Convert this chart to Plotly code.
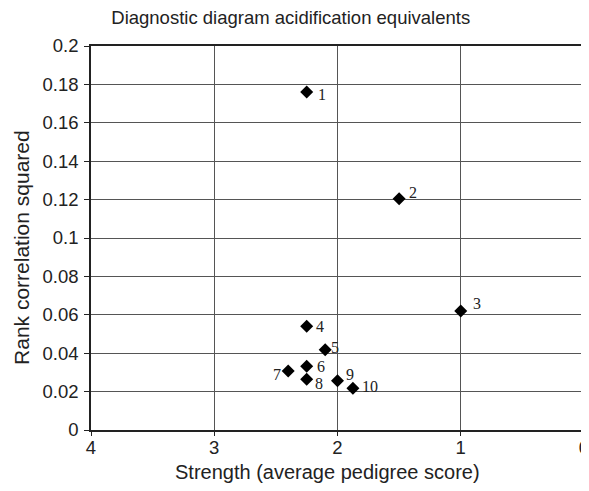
import plotly.graph_objects as go

labels = ["1", "2", "3", "4", "5", "6", "7", "8", "9", "10"]
strength = [2.25, 1.5, 1.0, 2.25, 2.1, 2.25, 2.4, 2.25, 2.0, 1.875]
rank_corr_sq = [0.176, 0.1205, 0.062, 0.054, 0.0418, 0.0332, 0.0307, 0.0264, 0.0257, 0.0218]

# label offsets (pixels) relative to each marker
label_dx = [15, 14, 16, 13, 10, 14, -11, 12, 12, 17]
label_dy = [-2, 6, 7, 0, 2, 0, -3, -4, 6, 2]

x_ticks = [4, 3, 2, 1, 0]
y_ticks = [0, 0.02, 0.04, 0.06, 0.08, 0.1, 0.12, 0.14, 0.16, 0.18, 0.2]
y_ticktext = ["0", "0.02", "0.04", "0.06", "0.08", "0.1", "0.12", "0.14", "0.16", "0.18", "0.2"]

fig = go.Figure()
fig.add_trace(go.Scatter(
    x=strength, y=rank_corr_sq, mode="markers",
    marker=dict(symbol="diamond", size=10, color="black"),
    showlegend=False, cliponaxis=False,
))

for t, xv, yv, dx, dy in zip(labels, strength, rank_corr_sq, label_dx, label_dy):
    fig.add_annotation(x=xv, y=yv, text=t, showarrow=False, xshift=dx, yshift=dy,
                       xanchor="center", yanchor="middle",
                       font=dict(family="Liberation Serif", size=16, color="#222"))

fig.add_annotation(text="Strength (average pedigree score)", xref="paper", yref="paper",
                   x=0.479, y=-0.11, xanchor="center", yanchor="middle", showarrow=False,
                   font=dict(family="Liberation Sans", size=20, color="#222"))
fig.add_annotation(text="Rank correlation squared", xref="paper", yref="paper",
                   x=-0.140, y=0.4766, xanchor="center", yanchor="middle", showarrow=False,
                   textangle=-90,
                   font=dict(family="Liberation Sans", size=21, color="#222"))

axis_font = dict(family="Liberation Sans", size=18.5, color="#222")
fig.update_layout(
    width=589, height=491,
    margin=dict(l=83, r=13, t=38, b=69, autoexpand=False),
    paper_bgcolor="white", plot_bgcolor="white",
    title=dict(text="Diagnostic diagram acidification equivalents", x=0.48, xref="container",
               xanchor="center", y=0.980, yanchor="middle",
               font=dict(family="Liberation Sans", size=18.5, color="#222")),
    xaxis=dict(range=[4, 0], tickvals=x_ticks, ticktext=[str(v) for v in x_ticks],
               showgrid=True, gridcolor="#555", gridwidth=1.2,
               showline=True, linecolor="#222", linewidth=1.5, mirror=True,
               ticks="outside", ticklen=4, tickcolor="#222", ticklabelstandoff=-4,
               tickfont=axis_font, zeroline=False, automargin=False),
    yaxis=dict(range=[0, 0.2], tickvals=y_ticks, ticktext=y_ticktext,
               showgrid=True, gridcolor="#555", gridwidth=1.2,
               showline=True, linecolor="#222", linewidth=1.5, mirror=True,
               ticks="outside", ticklen=5, tickcolor="#222", ticklabelstandoff=2,
               tickfont=axis_font, zeroline=False, automargin=False),
)

fig.write_html("out.html")
